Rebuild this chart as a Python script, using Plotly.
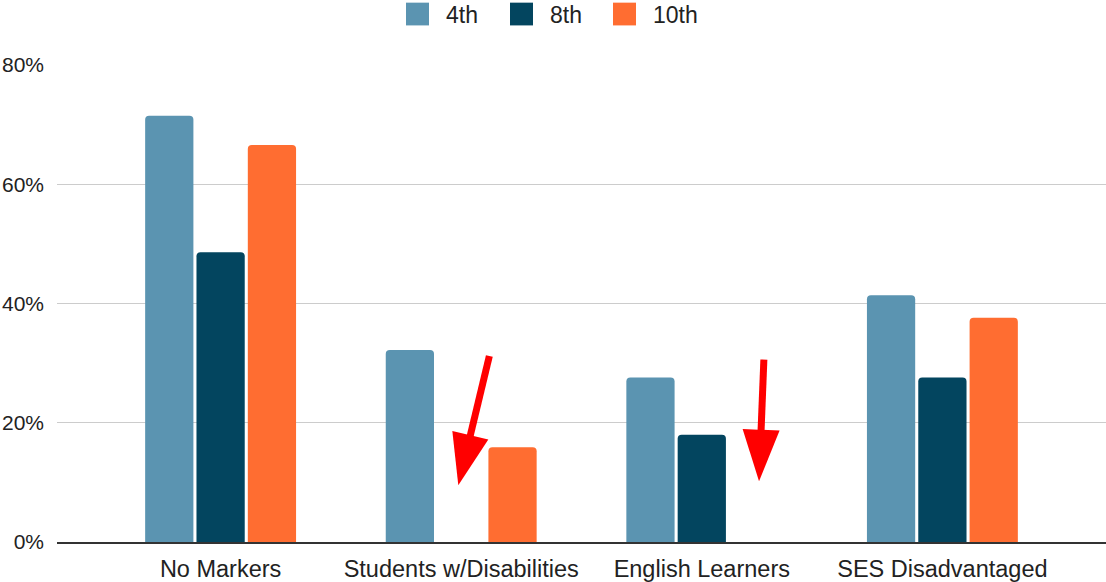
import math
import plotly.graph_objects as go

# ---- data ----
categories = ["No Markers", "Students w/Disabilities", "English Learners", "SES Disadvantaged"]
series_names = ["4th", "8th", "10th"]
grade_4th = [0.715, 0.322, 0.276, 0.414]
grade_8th = [0.486, None, 0.180, 0.276]
grade_10th = [0.666, 0.159, None, 0.376]
y_tick_values = [0, 0.2, 0.4, 0.6, 0.8]
y_tick_labels = ["0%", "20%", "40%", "60%", "80%"]

# arrows: (tail category-position, tail value) -> (tip category-position, tip value)
arrow_tails = [(1.117, 0.312), (2.258, 0.306)]
arrow_tips = [(0.988, 0.095), (2.238, 0.102)]

# ---- style ----
colors = ["#5b94b1", "#03455f", "#ff6d31"]
W, H = 1106, 582
ML, MR, MT, MB = 57, 0, 65, 35
XR = [-0.68, 3.68]
YR = [0, 0.8]
FONT = "Liberation Sans, Arial, sans-serif"
TXT = "#222222"

PW = W - ML - MR
PH = H - MT - MB


def px_x(i):
    return ML + (i - XR[0]) / (XR[1] - XR[0]) * PW


def px_y(v):
    return MT + (YR[1] - v) / (YR[1] - YR[0]) * PH


def dx(px):
    return XR[0] + (px - ML) / PW * (XR[1] - XR[0])


def dy(py):
    return YR[1] - (py - MT) / PH * (YR[1] - YR[0])


def paper_x(px):
    return (px - ML) / PW


def paper_y(py):
    return (MT + PH - py) / PH


fig = go.Figure()
for name, vals, col in zip(series_names, [grade_4th, grade_8th, grade_10th], colors):
    fig.add_trace(go.Bar(
        x=list(range(len(categories))), y=vals, name=name,
        marker=dict(color=col, line=dict(width=0), cornerradius=4),
        showlegend=False, hoverinfo="skip",
    ))

shapes = []
# arrows
HEAD_LEN, HEAD_W, SHAFT_W = 52, 37, 7
for (tx, ty), (hx, hy) in zip(arrow_tails, arrow_tips):
    x0, y0 = px_x(tx), px_y(ty)
    x1, y1 = px_x(hx), px_y(hy)
    L = math.hypot(x1 - x0, y1 - y0)
    ux, uy = (x1 - x0) / L, (y1 - y0) / L
    nx, ny = -uy, ux
    bx, by = x1 - HEAD_LEN * ux, y1 - HEAD_LEN * uy
    shapes.append(dict(type="line", xref="x", yref="y",
                       x0=dx(x0), y0=dy(y0), x1=dx(bx + 2 * ux), y1=dy(by + 2 * uy),
                       line=dict(color="#ff0000", width=SHAFT_W), layer="above"))
    c1 = (bx + HEAD_W / 2 * nx, by + HEAD_W / 2 * ny)
    c2 = (bx - HEAD_W / 2 * nx, by - HEAD_W / 2 * ny)
    path = "M {} {} L {} {} L {} {} Z".format(
        dx(x1), dy(y1), dx(c1[0]), dy(c1[1]), dx(c2[0]), dy(c2[1]))
    shapes.append(dict(type="path", xref="x", yref="y", path=path,
                       fillcolor="#ff0000", line=dict(width=0), layer="above"))

# manual legend
annotations = []
legend_sq_left = [406, 510, 613]
for name, col, lx in zip(series_names, colors, legend_sq_left):
    shapes.append(dict(type="rect", xref="paper", yref="paper",
                       x0=paper_x(lx), x1=paper_x(lx + 23),
                       y0=paper_y(25), y1=paper_y(2),
                       fillcolor=col, line=dict(width=0)))
    annotations.append(dict(xref="paper", yref="paper", x=paper_x(lx + 38), y=paper_y(14),
                            xanchor="left", yanchor="middle", text=name, showarrow=False,
                            font=dict(family=FONT, size=23, color=TXT)))

fig.update_layout(
    width=W, height=H,
    margin=dict(l=ML, r=MR, t=MT, b=MB, pad=0),
    paper_bgcolor="white", plot_bgcolor="white",
    barmode="group", bargap=0.36, bargroupgap=0.06,
    shapes=shapes, annotations=annotations,
    showlegend=False,
    font=dict(family=FONT, color=TXT),
)
fig.update_xaxes(
    range=XR, tickmode="array", tickvals=list(range(len(categories))), ticktext=categories,
    showgrid=False, zeroline=False, showline=True, linecolor="#333333", linewidth=2,
    ticks="", ticklabelstandoff=5, tickfont=dict(family=FONT, size=23.5, color=TXT),
)
fig.update_yaxes(
    range=YR, tickmode="array", tickvals=y_tick_values, ticktext=y_tick_labels,
    showgrid=True, gridcolor="#cccccc", gridwidth=1, zeroline=False, showline=False,
    ticks="", ticklabelstandoff=12, tickfont=dict(family=FONT, size=21, color=TXT),
)

fig.write_html(
    "out.html",
    config={"displayModeBar": False},
    post_script=("document.documentElement.style.overflow='hidden';"
                 "document.body.style.margin='0px';document.body.style.overflow='hidden';"),
)
